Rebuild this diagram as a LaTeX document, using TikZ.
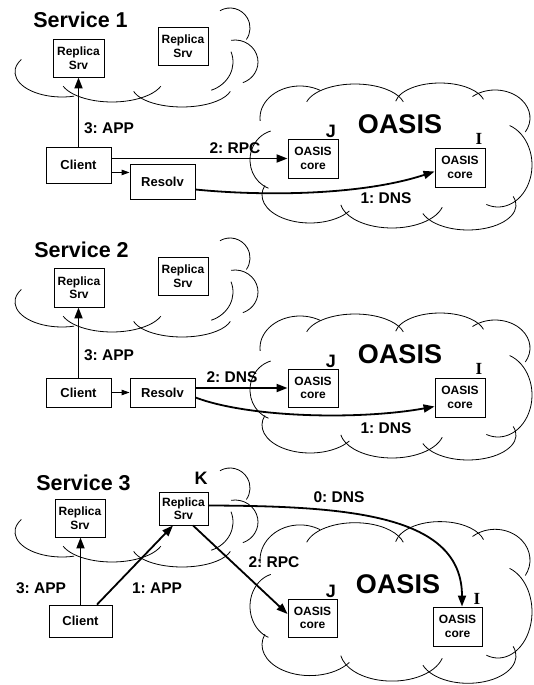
\documentclass[tikz,border=0pt]{standalone}
\usepackage{fontspec}
\setmainfont{Liberation Sans}
\newfontfamily\tnr{Liberation Serif}
\usetikzlibrary{arrows.meta,calc}
\frenchspacing
\newcommand\puff[6]{\draw[cloudline] ([shift={(#5:#3 and #4)}]#1,#2) arc[start angle=#5,end angle=#6,x radius=#3,y radius=#4];}
\newcommand\servicecloud{%
  \puff{62}{72}{47}{25}{-150}{-285}
  \puff{112}{78}{52}{24}{160}{20}
  \puff{182}{86}{50}{21}{165}{15}
  \puff{200}{62}{33}{30}{70}{-20}
  \puff{235}{62}{23}{22}{-100}{70}
  \puff{230}{28}{20}{20}{-120}{35}}
\newcommand\oasiscloud{%
  \puff{-90}{-39}{40}{32}{175}{300}
  \puff{-35}{-49}{50}{24}{-165}{-15}
  \puff{50}{-52}{45}{22}{-170}{-15}
  \puff{105}{-39}{35}{28}{-130}{30}
  \puff{108}{8}{34}{42}{-70}{110}
  \puff{78}{48}{48}{25}{-20}{160}
  \puff{2}{43}{52}{28}{15}{170}
  \puff{-80}{38}{48}{28}{35}{200}
  \puff{-112}{3}{28}{30}{110}{255}}
\begin{document}
\begin{tikzpicture}[x=1pt,y=-1pt,
  box/.style={draw,line width=0.9pt,inner sep=0pt,align=center,font=\fontsize{12}{13.5}\selectfont\bfseries},
  cbox/.style={box,font=\fontsize{13}{15}\selectfont\bfseries},
  lbl/.style={anchor=base,inner sep=0pt,font=\fontsize{15.5}{16}\selectfont\bfseries},
  svc/.style={anchor=base,inner sep=0pt,font=\fontsize{21.5}{22}\selectfont\bfseries},
  big/.style={anchor=base,inner sep=0pt,font=\fontsize{27}{28}\selectfont\bfseries},
  tag/.style={anchor=base,inner sep=0pt,font=\fontsize{18}{18}\selectfont\bfseries},
  stag/.style={anchor=base,inner sep=0pt,font=\tnr\fontsize{17}{17}\selectfont\bfseries},
  cloudline/.style={line width=0.8pt},
  fat/.style={line width=1.8pt,-{Triangle[length=11pt,width=8pt]}},
  slim/.style={line width=0.9pt,-{Triangle[length=8pt,width=5.5pt]}},
]
\useasboundingbox (0,0) rectangle (533,685);
% clouds
\servicecloud
\begin{scope}[shift={(0,230)}]\servicecloud\end{scope}
\begin{scope}[shift={(0,460)}]\servicecloud\end{scope}
\begin{scope}[shift={(390,157)}]\oasiscloud\end{scope}
\begin{scope}[shift={(390,387)}]\oasiscloud\end{scope}
\begin{scope}[shift={(390,603)},yscale=1.1]\oasiscloud\end{scope}

% ---------- panel 1
\node[svc] (svc1) at (80.5,28) {Service 1};
\node[box,minimum width=51pt,minimum height=38pt] (rA1) at (78.5,58) {Replica\\Srv};
\node[box,minimum width=50pt,minimum height=38pt] (rB1) at (183,46) {Replica\\Srv};
\node[cbox,minimum width=65pt,minimum height=36pt] (cl1) at (78.5,165) {Client};
\node[cbox,minimum width=65pt,minimum height=35pt] (rs1) at (162.5,181.5) {Resolv};
\node[box,minimum width=50pt,minimum height=39pt] (J1) at (313,158.5) {OASIS\\core};
\node[box,minimum width=50pt,minimum height=39pt] (I1) at (460,167.5) {OASIS\\core};
\node[big] (oa1) at (400,133) {OASIS};
\node[tag] (tJ1) at (331,137) {J};
\node[stag] (tI1) at (479,144) {I};
\node[lbl] (l3a1) at (109,133) {3: APP};
\node[lbl] (l2r1) at (235,153) {2: RPC};
\node[lbl] (l1d1) at (386,203) {1: DNS};
\draw[fat] (cl1.north) -- (rA1.south);
\draw[fat] (cl1.east |- J1.west) -- (J1.west);
\coordinate (c2r1) at ([yshift=11pt]cl1.south east);
\draw[slim] (c2r1) -- (c2r1 -| rs1.west);
\draw[fat] ([yshift=-8pt]rs1.east) .. controls (260,196) and (360,196) .. ([yshift=-4pt]I1.west);

% ---------- panel 2
\node[svc] (svc2) at (81.5,257) {Service 2};
\node[box,minimum width=50pt,minimum height=39pt] (rA2) at (79,287.5) {Replica\\Srv};
\node[box,minimum width=50pt,minimum height=38pt] (rB2) at (183,276) {Replica\\Srv};
\node[cbox,minimum width=65pt,minimum height=29pt] (cl2) at (78.5,392.5) {Client};
\node[cbox,minimum width=65pt,minimum height=29pt] (rs2) at (162.5,392.5) {Resolv};
\node[box,minimum width=50pt,minimum height=38pt] (J2) at (313,388) {OASIS\\core};
\node[box,minimum width=50pt,minimum height=39pt] (I2) at (460,397.5) {OASIS\\core};
\node[big] (oa2) at (400,363) {OASIS};
\node[tag] (tJ2) at (331,367) {J};
\node[stag] (tI2) at (479,374) {I};
\node[lbl] (l3a2) at (109,360) {3: APP};
\node[lbl] (l2d2) at (232,382) {2: DNS};
\node[lbl] (l1d2) at (386,433) {1: DNS};
\draw[fat] (cl2.north) -- (rA2.south -| cl2.north);
\draw[slim] (cl2.east) -- (rs2.west);
\draw[fat] (rs2.east |- J2.west) -- (J2.west);
\draw[fat] ([yshift=-5pt]rs2.east) .. controls (250,418) and (360,420) .. ([yshift=-9pt]I2.west);

% ---------- panel 3
\node[svc] (svc3) at (83.5,490) {Service 3};
\node[box,minimum width=50pt,minimum height=38pt] (rA3) at (80,518) {Replica\\Srv};
\node[box,minimum width=49pt,minimum height=33pt] (K) at (183.5,508.5) {Replica\\Srv};
\node[cbox,minimum width=63pt,minimum height=32pt] (cl3) at (80.5,621) {Client};
\node[box,minimum width=49pt,minimum height=38pt] (J3) at (312.5,618) {OASIS\\core};
\node[box,minimum width=49pt,minimum height=39pt] (I3) at (457.5,626.5) {OASIS\\core};
\node[big] (oa3) at (398,593) {OASIS};
\node[tag] (tJ3) at (331,597) {J};
\node[stag] (tI3) at (477,604) {I};
\node[tag] (tK) at (201,484) {K};
\node[lbl] (l0d3) at (339,502) {0: DNS};
\node[lbl] (l2r3) at (274,567) {2: RPC};
\node[lbl] (l3a3) at (41,593) {3: APP};
\node[lbl] (l1a3) at (157,593) {1: APP};
\draw[fat] (cl3.north) -- (rA3.south -| cl3.north);
\draw[fat] ([xshift=16.5pt]cl3.north) -- ([xshift=-10.5pt]K.south);
\draw[fat] ([xshift=9.5pt]K.south) -- ([yshift=4pt]J3.west);
\draw[fat] ([yshift=3pt]K.east) .. controls (350,506) and (462,515) .. ([xshift=4.5pt]I3.north);
\end{tikzpicture}
\end{document}
